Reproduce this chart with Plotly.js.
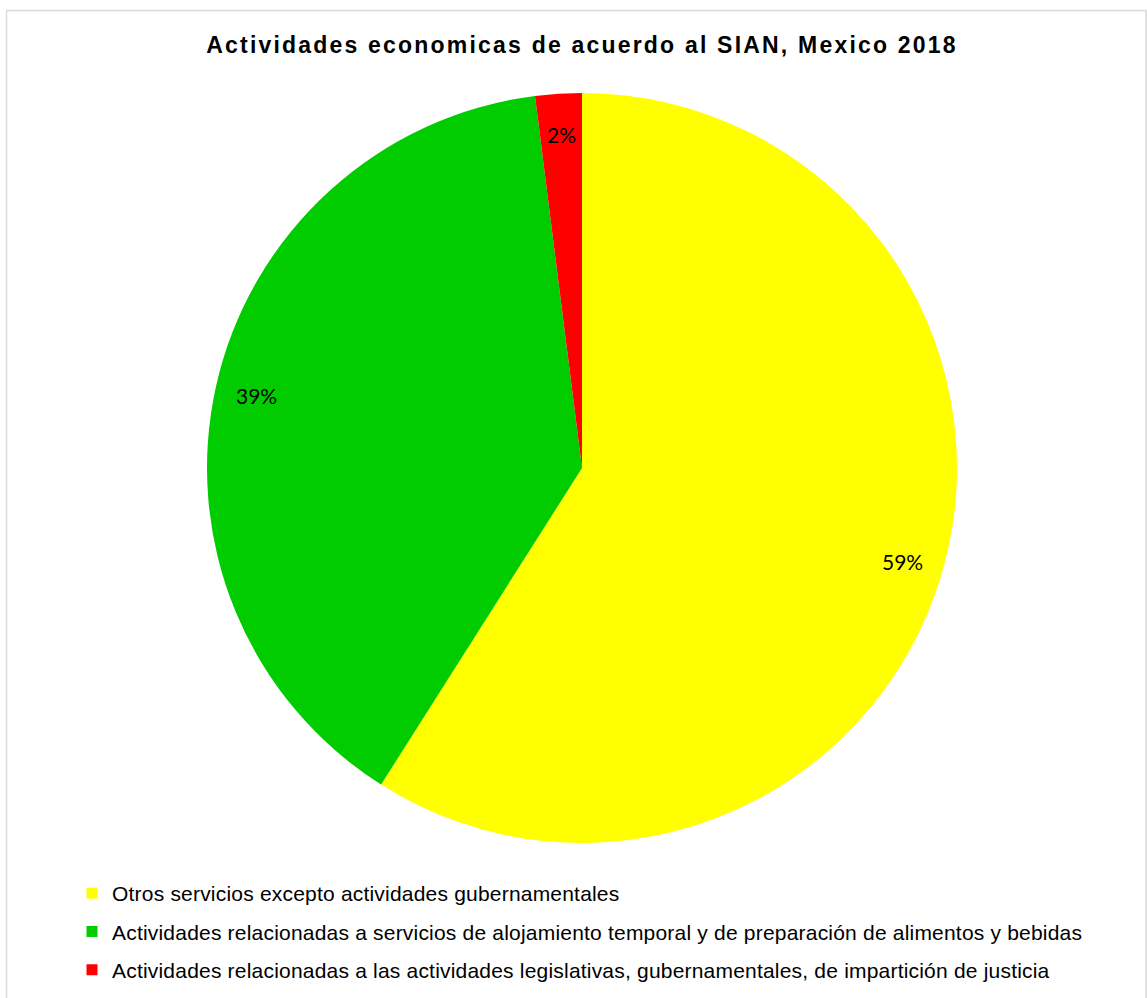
<!DOCTYPE html>
<html><head><meta charset="utf-8">
<script src="https://cdn.plot.ly/plotly-3.0.1.min.js"></script>
<style>html,body{margin:0;padding:0;background:#fff}#chart{width:1147px;height:998px}
.gtitle{letter-spacing:2.2px}
.legendtext{letter-spacing:0.2px}
</style>
</head><body><div id="chart"></div>
<script>
const categories = [
  "Otros servicios excepto actividades gubernamentales",
  "Actividades relacionadas a servicios de alojamiento temporal y de preparación de alimentos y bebidas",
  "Actividades relacionadas a las actividades legislativas, gubernamentales, de impartición de justicia"
];
const values = [59, 39, 2];
const colors = ["#FFFF00", "#00CC00", "#FF0000"];
const titleText = "Actividades economicas de acuerdo al SIAN, Mexico 2018";

const W = 1147, H = 998;
const domX = [(582-375)/W, (582+375)/W];
const domY = [(998-843)/H, (998-93)/H];

const pie = {
  type: "pie",
  labels: categories,
  values: values,
  marker: {colors: colors, line: {width: 0}},
  sort: false,
  direction: "clockwise",
  rotation: 0,
  textinfo: "none",
  domain: {x: domX, y: domY},
  showlegend: false,
  hoverinfo: "label+percent"
};

// legend entries (one per category, drawn by the legend only)
const legendTraces = categories.map((c, i) => ({
  type: "scatter", mode: "markers", x: [null], y: [null], name: c,
  legendgroup: "g" + i,
  marker: {symbol: "square", size: 11, color: colors[i]},
  hoverinfo: "skip"
}));

// percent labels placed along each slice's mid-angle, near the rim
const total = values.reduce((a, b) => a + b, 0);
const cxPx = (domX[0] + domX[1]) / 2 * W;
const cyPx = (1 - (domY[0] + domY[1]) / 2) * H;
const Rpx = (domX[1] - domX[0]) * W / 2;
let cum = 0;
const annotations = values.map((v) => {
  const mid = (cum + v / 2) / total * 2 * Math.PI;
  cum += v;
  const r = Rpx * 0.89;
  const xp = cxPx + r * Math.sin(mid);
  const yp = cyPx - r * Math.cos(mid);
  return {
    xref: "paper", yref: "paper", x: xp / W, y: 1 - yp / H,
    xanchor: "center", yanchor: "middle", showarrow: false,
    text: Math.round(v / total * 100) + "%",
    font: {family: "Lato, 'Open Sans', sans-serif", size: 21, color: "#000"}
  };
});

const layout = {
  width: W, height: H,
  margin: {l: 0, r: 0, t: 0, b: 0},
  paper_bgcolor: "#fff",
  plot_bgcolor: "rgba(0,0,0,0)",
  xaxis: {visible: false}, yaxis: {visible: false},
  title: {text: "<b>" + titleText + "</b>", x: 582/W, xanchor: "center", y: 1 - 45/H, yanchor: "middle",
          font: {family: "'Liberation Sans', Arial, sans-serif", size: 23, color: "#000"}},
  showlegend: true,
  legend: {x: 72/W, xanchor: "left", y: (H-873)/H, yanchor: "top", orientation: "v",
           font: {family: "'Liberation Sans', Arial, sans-serif", size: 21, color: "#000"},
           traceorder: "grouped", itemwidth: 30, tracegroupgap: 8, bgcolor: "rgba(0,0,0,0)"},
  annotations: annotations,
  shapes: [{type: "rect", xref: "paper", yref: "paper",
            x0: 6.5/W, x1: 1146/W, y0: -0.02, y1: 1 - 10.5/H,
            line: {color: "#D9D9D9", width: 1.5}, fillcolor: "rgba(0,0,0,0)"}]
};
Plotly.newPlot("chart", [pie].concat(legendTraces), layout, {displayModeBar: false, staticPlot: true});
</script></body></html>
